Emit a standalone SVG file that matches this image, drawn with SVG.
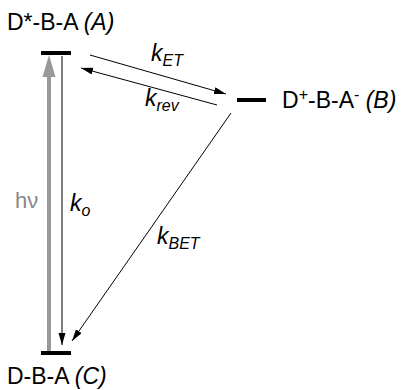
<svg xmlns="http://www.w3.org/2000/svg" width="401" height="390" viewBox="0 0 401 390">
<defs>
<style>
.lbl{font-family:"Liberation Sans",Arial,sans-serif;font-size:23px;fill:#000}
.k{font-family:"Liberation Sans",Arial,sans-serif;font-size:23px;font-style:italic;fill:#000}
.sub{font-size:16px}
.lvl{stroke:#000;stroke-width:4}
.conn{stroke:#000;stroke-width:1;fill:none}
</style>
<marker id="ah" markerUnits="userSpaceOnUse" markerWidth="13" markerHeight="8" refX="12" refY="3.5" orient="auto">
<path d="M0,0 L12,3.5 L0,7 z" fill="#000"/>
</marker>
</defs>
<rect width="401" height="390" fill="#fff"/>
<g id="A">
<line class="lvl" x1="41" y1="53" x2="71" y2="53"/>
<text class="lbl" x="7" y="30">D*-B-A <tspan font-style="italic">(A)</tspan></text>
</g>
<g id="B">
<line class="lvl" x1="237" y1="100" x2="266" y2="100"/>
<text class="lbl" x="282" y="108">D<tspan class="sub" dy="-8">+</tspan><tspan dy="8">-B-A</tspan><tspan class="sub" dy="-8">-</tspan><tspan dy="8"> </tspan><tspan font-style="italic">(B)</tspan></text>
</g>
<g id="C">
<line class="lvl" x1="41" y1="353" x2="71" y2="353"/>
<text class="lbl" x="7" y="384">D-B-A <tspan font-style="italic">(C)</tspan></text>
</g>
<g id="connectors">
<line x1="49" y1="351" x2="49" y2="74" stroke="#999" stroke-width="4"/>
<path d="M49,55 L42.5,77 L55.5,77 z" fill="#999"/>
<line class="conn" x1="62" y1="56" x2="62" y2="345" marker-end="url(#ah)"/>
<line class="conn" x1="90" y1="55" x2="226" y2="94" marker-end="url(#ah)"/>
<line class="conn" x1="217" y1="105" x2="81" y2="68" marker-end="url(#ah)"/>
<line class="conn" x1="231" y1="113" x2="72" y2="341" marker-end="url(#ah)"/>
</g>
<g id="labels">
<text class="k" x="151" y="61">k<tspan class="sub" dy="5">ET</tspan></text>
<text class="k" x="145" y="106">k<tspan class="sub" dy="5">rev</tspan></text>
<text class="k" x="70" y="211">k<tspan class="sub" dy="5">o</tspan></text>
<text class="k" x="157" y="244">k<tspan class="sub" dy="5">BET</tspan></text>
<text x="15" y="208" font-family="Liberation Sans,Arial,sans-serif" font-size="22" fill="#888">hν</text>
</g>
</svg>
